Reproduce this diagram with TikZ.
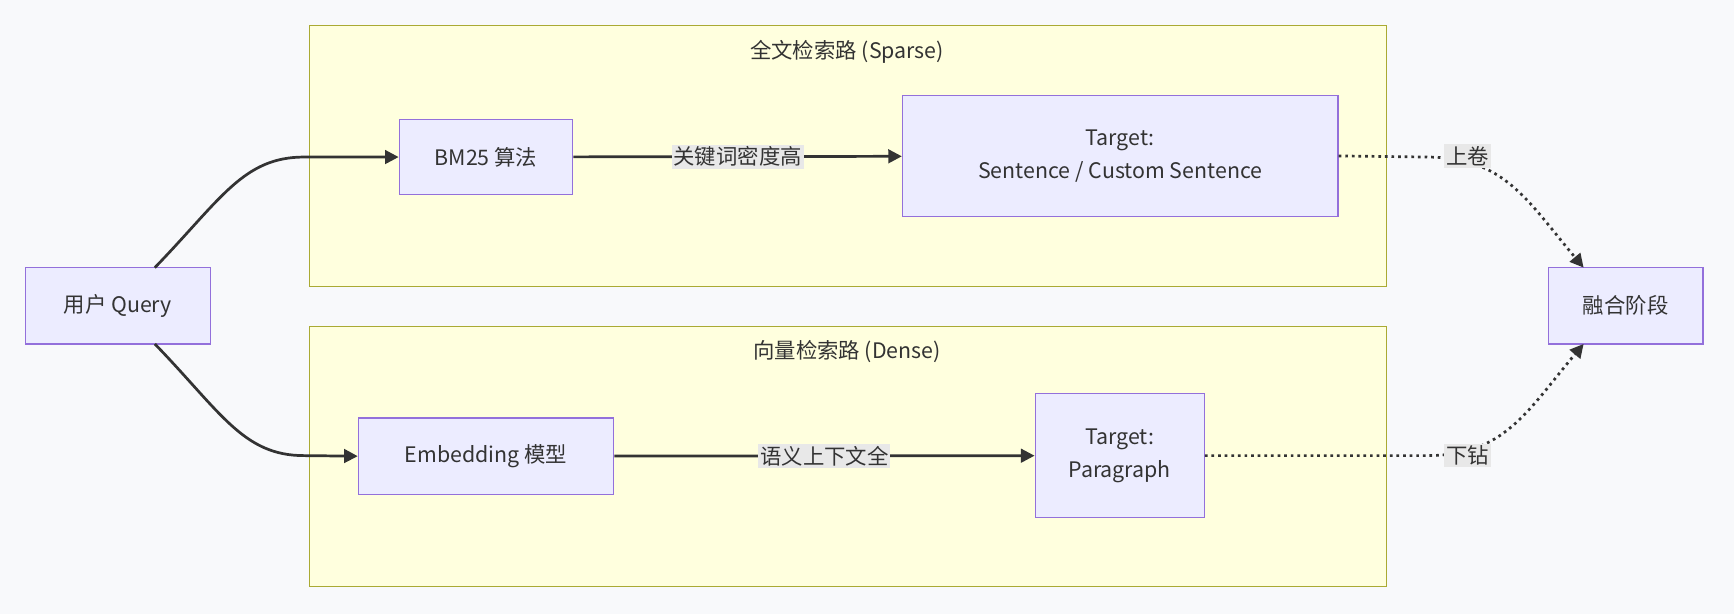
\documentclass[tikz,border=0pt]{standalone}
\usepackage{fontspec}
\setmainfont{Noto Sans CJK SC}
\usetikzlibrary{arrows.meta}
\definecolor{boxfill}{HTML}{ECECFF}
\definecolor{boxline}{HTML}{9370DB}
\definecolor{lanefill}{HTML}{FFFFDE}
\definecolor{laneline}{HTML}{AAAA33}
\definecolor{edgecol}{HTML}{333333}
\definecolor{tagfill}{HTML}{E8E8E8}
\definecolor{pagebg}{HTML}{F8F9FB}
\begin{document}
\begin{tikzpicture}[x=0.02cm, y=-0.02cm,
    every node/.style={font=\fontsize{11}{15}\selectfont, text=edgecol},
    stage/.style={draw=boxline, fill=boxfill, line width=0.6pt, align=center, inner sep=0pt},
    lane/.style={draw=laneline, fill=lanefill, line width=0.6pt},
    tag/.style={fill=tagfill, inner sep=1pt},
    flow/.style={draw=edgecol, line width=1.4pt, -{Triangle[length=7pt,width=7pt]}},
    link/.style={draw=edgecol, line width=1.4pt, dotted, -{Triangle[length=7pt,width=7pt]}}]
  \fill[pagebg] (0,0) rectangle (1568,555);
  \draw[lane] (280,23) rectangle (1254,259);
  \draw[lane] (280,295) rectangle (1254,530);
  \node (sparse) at (766,47) {全文检索路 (Sparse)};
  \node (dense) at (766,318) {向量检索路 (Dense)};
  \node[stage, minimum width=3.34cm, minimum height=1.38cm] (query) at (106.5,276.5) {用户 Query};
  \node[stage, minimum width=3.14cm, minimum height=1.36cm] (bm) at (439.5,142) {BM25 算法};
  \node[stage, minimum width=7.88cm, minimum height=2.2cm] (sent) at (1013,141) {Target:\\[2pt]Sentence / Custom Sentence};
  \node[stage, minimum width=4.62cm, minimum height=1.38cm] (emb) at (439.5,412.5) {Embedding 模型};
  \node[stage, minimum width=3.06cm, minimum height=2.24cm] (para) at (1012.5,412) {Target:\\[2pt]Paragraph};
  \node[stage, minimum width=2.8cm, minimum height=1.38cm] (fuse) at (1470,276.5) {融合阶段};
  \coordinate (qa) at (140,242);
  \coordinate (qb) at (140,311);
  \coordinate (fa) at (1432,242);
  \coordinate (fb) at (1432,311);
  \draw[flow] (qa) .. controls (200,180) and (220,142) .. (275,142) -- (bm.west);
  \draw[flow] (qb) .. controls (200,373) and (220,412) .. (275,412) -- (emb.west);
  \draw[flow] (bm) -- node[tag] (kw) {关键词密度高} (sent);
  \draw[flow] (emb) -- node[tag] (sem) {语义上下文全} (para);
  \draw[link] (sent.east) -- (1290,142) .. controls (1360,142) and (1380,180) .. (fa);
  \draw[link] (para.east) -- (1290,412) .. controls (1360,412) and (1380,373) .. (fb);
  \node[tag] (up) at (1327,141) {上卷};
  \node[tag] (down) at (1327,412) {下钻};
\end{tikzpicture}
\end{document}
